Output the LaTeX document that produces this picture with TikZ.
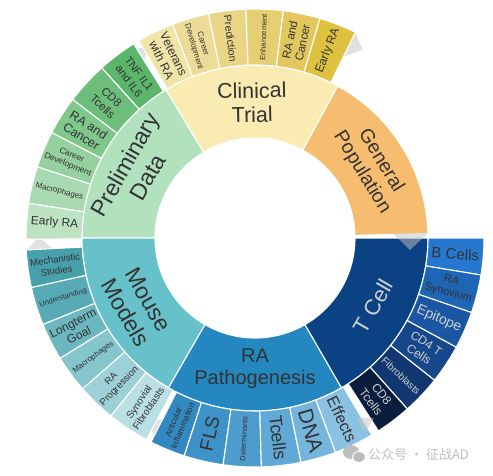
\documentclass[tikz,border=0pt]{standalone}
\usepackage{fontspec}
\setmainfont{Liberation Sans}
\newfontfamily\cjk{Noto Sans CJK SC}
\definecolor{ctin}{HTML}{FAEBB3}
\definecolor{gp}{HTML}{F6BC6F}
\definecolor{pdin}{HTML}{B2E1BD}
\definecolor{mmin}{HTML}{67C1CB}
\definecolor{rpin}{HTML}{2487C0}
\definecolor{tcin}{HTML}{0B4283}
\definecolor{ct1}{HTML}{F1E4A8}
\definecolor{ct2}{HTML}{EDDC97}
\definecolor{ct3}{HTML}{E9D585}
\definecolor{ct4}{HTML}{E6CF73}
\definecolor{ct5}{HTML}{E2C75E}
\definecolor{ct6}{HTML}{DEC13F}
\definecolor{pd1}{HTML}{5BB56A}
\definecolor{pd2}{HTML}{6DBE7B}
\definecolor{pd3}{HTML}{80C78C}
\definecolor{pd4}{HTML}{95D09F}
\definecolor{pd5}{HTML}{A8D9B0}
\definecolor{pd6}{HTML}{BDE3C2}
\definecolor{mm1}{HTML}{47A1AD}
\definecolor{mm2}{HTML}{58ABB6}
\definecolor{mm3}{HTML}{6CB6BF}
\definecolor{mm4}{HTML}{85C5CC}
\definecolor{mm5}{HTML}{9ED1D7}
\definecolor{mm6}{HTML}{BBE0E4}
\definecolor{rp1}{HTML}{3289C2}
\definecolor{rp2}{HTML}{3E92C7}
\definecolor{rp3}{HTML}{4E9CCE}
\definecolor{rp4}{HTML}{60A8D5}
\definecolor{rp5}{HTML}{75B4DB}
\definecolor{rp6}{HTML}{8BC2E2}
\definecolor{tc1}{HTML}{2677CF}
\definecolor{tc2}{HTML}{1E65B5}
\definecolor{tc3}{HTML}{1A56A1}
\definecolor{tc4}{HTML}{15478A}
\definecolor{tc5}{HTML}{103770}
\definecolor{tc6}{HTML}{0B1D3D}
\definecolor{txt}{HTML}{333333}
\definecolor{ltxt}{HTML}{D0D0D0}
\definecolor{shade}{HTML}{C3C3C3}
\definecolor{wm}{HTML}{BDBDBD}
\newcommand\sbseg[5]{\path[seg,#5] (#1:#3pt) arc[start angle=#1,end angle=#2,radius=#3pt] -- (#2:#4pt) arc[start angle=#2,end angle=#1,radius=#4pt] -- cycle;}
\newcommand\olab[7]{\node[lbl,text=#6,rotate=#3,font=\fontsize{#4}{#5}\selectfont] (#1) at (#2:201pt) {#7};}
\newcommand\ilab[8]{\node[lbl,text=#6,rotate=#3,font=\fontsize{#4}{#5}\selectfont] (#1) at (#2:#8pt) {#7};}
\tikzset{
  seg/.style={draw=white,line width=1.1pt,line join=round},
  lbl/.style={align=center,inner sep=0pt},
  shd/.style={fill=shade,fill opacity=0.5}
}
\begin{document}
\begin{tikzpicture}[x=1pt,y=1pt]
\useasboundingbox (-255,-237) rectangle (238,238);
% shading triangles behind
\fill[shd] (-228.3,-12) -- (-201.7,-12) -- (-215.7,1.3) -- cycle;
\fill[shd] (100,206.3) -- (107.7,188) -- (88,181.3) -- cycle;
\fill[shd] (-126.7,191.3) -- (-108.3,189.7) -- (-111.7,169.7) -- cycle;
\fill[shd] (-110,-187) -- (-91.7,-180.3) -- (-95,-202) -- cycle;
% inner ring
\sbseg{1.5}{61.5}{100}{173}{fill=gp}
\sbseg{61.5}{121}{100}{173}{fill=ctin}
\sbseg{121}{180}{100}{173}{fill=pdin}
\sbseg{180}{240}{100}{173}{fill=mmin}
\sbseg{240}{300}{100}{173}{fill=rpin}
\sbseg{300}{360}{100}{173}{fill=tcin}
% Clinical Trial outer
\sbseg{111.1}{120.5}{173}{229}{fill=ct1}
\sbseg{101.7}{111.1}{173}{229}{fill=ct2}
\sbseg{92.3}{101.7}{173}{229}{fill=ct3}
\sbseg{82.9}{92.3}{173}{229}{fill=ct4}
\sbseg{73.5}{82.9}{173}{229}{fill=ct5}
\sbseg{64}{73.5}{173}{229}{fill=ct6}
% Preliminary Data outer
\sbseg{122}{132}{173}{229}{fill=pd1}
\sbseg{132}{142.8}{173}{229}{fill=pd2}
\sbseg{142.8}{152.6}{173}{229}{fill=pd3}
\sbseg{152.6}{161.9}{173}{229}{fill=pd4}
\sbseg{161.9}{171.3}{173}{229}{fill=pd5}
\sbseg{171.3}{180.3}{173}{229}{fill=pd6}
% Mouse Models outer
\sbseg{183}{192.5}{173}{229}{fill=mm1}
\sbseg{192.5}{202.2}{173}{229}{fill=mm2}
\sbseg{202.2}{211.7}{173}{229}{fill=mm3}
\sbseg{211.7}{221.2}{173}{229}{fill=mm4}
\sbseg{221.2}{231}{173}{229}{fill=mm5}
\sbseg{231}{241.7}{173}{229}{fill=mm6}
% RA Pathogenesis outer
\sbseg{243}{252}{173}{229}{fill=rp1}
\sbseg{252}{262}{173}{229}{fill=rp2}
\sbseg{262}{271.6}{173}{229}{fill=rp3}
\sbseg{271.6}{281.6}{173}{229}{fill=rp4}
\sbseg{281.6}{290.6}{173}{229}{fill=rp5}
\sbseg{290.6}{300.7}{173}{229}{fill=rp6}
% T Cell outer
\sbseg{350.7}{360}{173}{229}{fill=tc1}
\sbseg{341}{350.7}{173}{229}{fill=tc2}
\sbseg{331.5}{341}{173}{229}{fill=tc3}
\sbseg{321.6}{331.5}{173}{229}{fill=tc4}
\sbseg{311.7}{321.6}{173}{229}{fill=tc5}
\sbseg{302.6}{311.7}{173}{229}{fill=tc6}
% shading triangles over
\fill[shd] (138,5) -- (173,5) -- (155,-12) -- cycle;
\fill[shd] (102,-180) -- (119,-180) -- (110,-195) -- cycle;
% inner labels
\ilab{gpl}{31.5}{-58.5}{19.5}{22}{txt}{General\\Population}{136.5}
\ilab{ctl}{91.25}{1.25}{21.5}{24}{txt}{Clinical\\Trial}{135.5}
\ilab{pdl}{150.5}{60.5}{23}{26}{txt}{Preliminary\\Data}{136.5}
\ilab{mml}{210}{-60}{23}{26}{txt}{Mouse\\Models}{136.5}
\ilab{rpl}{270}{0}{20}{22.5}{txt}{RA\\Pathogenesis}{130.5}
\ilab{tcl}{330}{60}{22}{24}{ltxt}{T Cell}{136.5}
% Clinical outer labels
\olab{ct1l}{115.8}{-64.2}{12}{13.5}{txt}{Veterans\\with RA}
\olab{ct2l}{106.4}{-73.6}{8}{9.5}{txt}{Career\\Development}
\olab{ct3l}{97}{-83}{10.5}{12}{txt}{Prediction}
\olab{ct4l}{87.6}{87.6}{7.5}{8.5}{txt}{Enhancement}
\olab{ct5l}{78.2}{78.2}{11.5}{13}{txt}{RA and\\Cancer}
\olab{ct6l}{68.75}{68.75}{12}{13}{txt}{Early RA}
% Preliminary outer labels
\olab{pd1l}{127}{-53}{11}{12.5}{txt}{TNF IL1\\and IL6}
\olab{pd2l}{137.4}{-42.6}{11.5}{13}{txt}{CD8\\Tcells}
\olab{pd3l}{147.7}{-32.3}{12.5}{13.5}{txt}{RA and\\Cancer}
\olab{pd4l}{157.25}{-22.75}{8.5}{10}{txt}{Career\\Development}
\olab{pd5l}{166.6}{-13.4}{8}{9}{txt}{Macrophages}
\olab{pd6l}{175.65}{-4.35}{12}{13}{txt}{Early RA}
% Mouse outer labels
\olab{mm1l}{187.75}{7.75}{9.5}{11}{txt}{Mechanistic\\Studies}
\olab{mm2l}{197.35}{17.35}{7.5}{8.5}{txt}{Understanding}
\olab{mm3l}{206.95}{26.95}{12}{13.5}{txt}{Longterm\\Goal}
\olab{mm4l}{216.45}{36.45}{8}{9}{txt}{Macrophages}
\olab{mm5l}{226.1}{46.1}{9.5}{11}{txt}{RA\\Progression}
\olab{mm6l}{236.35}{56.35}{10}{11.5}{txt}{Synovial\\Fibroblasts}
% RA Pathogenesis outer labels
\olab{rp1l}{247.5}{67.5}{8.5}{10}{txt}{Articular\\Inflammation}
\olab{rp2l}{257}{77}{19}{20}{txt}{FLS}
\olab{rp3l}{266.8}{86.8}{7.5}{8.5}{txt}{Determinants}
\olab{rp4l}{276.6}{-83.4}{18}{19}{txt}{Tcells}
\olab{rp5l}{286.1}{-73.9}{21}{22}{txt}{DNA}
\olab{rp6l}{295.65}{-64.35}{16}{17}{txt}{Effects}
% T Cell outer labels
\olab{tc1l}{355.35}{-4.65}{15}{16}{txt}{B Cells}
\olab{tc2l}{345.85}{-14.15}{11}{12.5}{txt}{RA\\Synovium}
\olab{tc3l}{336.25}{-23.75}{14}{15}{ltxt}{Epitope}
\olab{tc4l}{326.55}{-33.45}{12}{13.5}{ltxt}{CD4 T\\Cells}
\olab{tc5l}{316.65}{-43.35}{10}{11}{ltxt}{Fibroblasts}
\olab{tc6l}{307.15}{-52.85}{12}{13.5}{ltxt}{CD8\\Tcells}
% watermark
\fill[wm] (96,-214) ellipse (8 and 7);
\fill[wm,draw=white,line width=1pt] (104,-219) ellipse (6.5 and 5.5);
\node[anchor=west,inner sep=0pt,text=wm,font=\cjk\fontsize{13}{14}\selectfont] (wmk) at (113,-217) {公众号 · 征战AD};
\end{tikzpicture}
\end{document}
